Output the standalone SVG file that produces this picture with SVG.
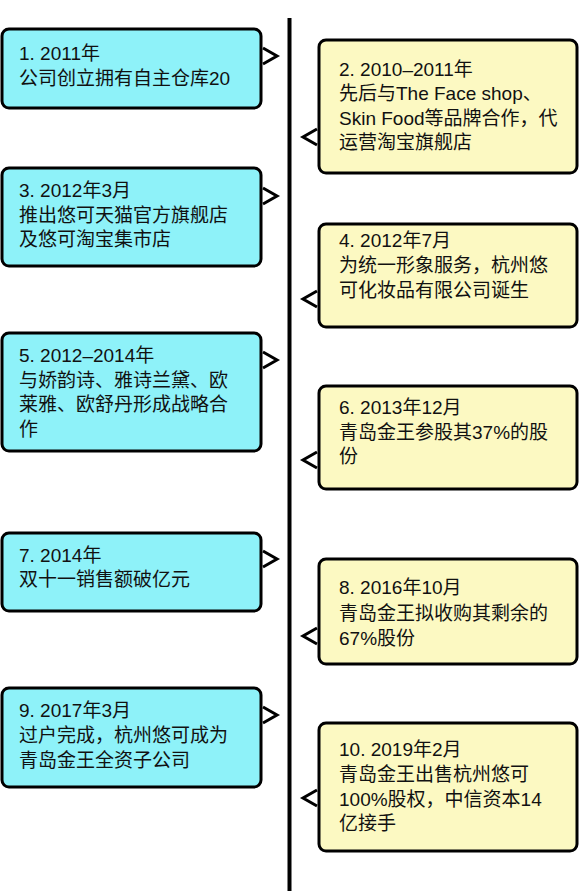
<svg xmlns="http://www.w3.org/2000/svg" width="580" height="891" viewBox="0 0 580 891">
<style>
.l{fill:#8ef2f9;stroke:#000;stroke-width:3}
.r{fill:#fcf9c2;stroke:#000;stroke-width:3}
.t{fill:none;stroke:#000;stroke-width:3;stroke-linejoin:miter}
text{font-family:"Liberation Sans","Noto Sans CJK SC",sans-serif;font-size:19px;fill:#111}
</style>
<rect width="580" height="891" fill="#fff"/>
<g id="connectors">
<line x1="289.5" y1="18" x2="289.5" y2="891" stroke="#000" stroke-width="4"/>
<polyline class="t" points="263,48 277,56 263,64"/>
<polyline class="t" points="263,188 277,196 263,204"/>
<polyline class="t" points="263,352 277,360 263,368"/>
<polyline class="t" points="263,551 277,559 263,567"/>
<polyline class="t" points="263,707 277,715 263,723"/>
<polyline class="t" points="317,129 303,137 317,145"/>
<polyline class="t" points="317,291 303,299 317,307"/>
<polyline class="t" points="317,452 303,460 317,468"/>
<polyline class="t" points="317,628 303,636 317,644"/>
<polyline class="t" points="317,790 303,798 317,806"/>
</g>
<g id="n1"><rect class="l" x="2" y="29" width="259" height="79" rx="7"/>
<text x="19" y="60">1. 2011年</text><text x="19" y="85">公司创立拥有自主仓库20</text></g>
<g id="n3"><rect class="l" x="2" y="168" width="259" height="98" rx="7"/>
<text x="19" y="197">3. 2012年3月</text><text x="19" y="222">推出悠可天猫官方旗舰店</text><text x="19" y="246">及悠可淘宝集市店</text></g>
<g id="n5"><rect class="l" x="2" y="333" width="259" height="118" rx="7"/>
<text x="19" y="362">5. 2012–2014年</text><text x="19" y="387">与娇韵诗、雅诗兰黛、欧</text><text x="19" y="411">莱雅、欧舒丹形成战略合</text><text x="19" y="436">作</text></g>
<g id="n7"><rect class="l" x="2" y="533" width="259" height="78" rx="7"/>
<text x="19" y="562">7. 2014年</text><text x="19" y="586">双十一销售额破亿元</text></g>
<g id="n9"><rect class="l" x="2" y="688" width="259" height="99" rx="7"/>
<text x="19" y="717">9. 2017年3月</text><text x="19" y="742">过户完成，杭州悠可成为</text><text x="19" y="767">青岛金王全资子公司</text></g>
<g id="n2"><rect class="r" x="319" y="40" width="258" height="133" rx="7"/>
<text x="339" y="76">2. 2010–2011年</text><text x="339" y="100">先后与The Face shop、</text><text x="339" y="125">Skin Food等品牌合作，代</text><text x="339" y="149">运营淘宝旗舰店</text></g>
<g id="n4"><rect class="r" x="319" y="224" width="258" height="103" rx="7"/>
<text x="339" y="247">4. 2012年7月</text><text x="339" y="272">为统一形象服务，杭州悠</text><text x="339" y="297">可化妆品有限公司诞生</text></g>
<g id="n6"><rect class="r" x="319" y="386" width="258" height="103" rx="7"/>
<text x="339" y="414">6. 2013年12月</text><text x="339" y="439">青岛金王参股其37%的股</text><text x="339" y="463">份</text></g>
<g id="n8"><rect class="r" x="319" y="559" width="258" height="105" rx="7"/>
<text x="339" y="594">8. 2016年10月</text><text x="339" y="620">青岛金王拟收购其剩余的</text><text x="339" y="645">67%股份</text></g>
<g id="n10"><rect class="r" x="319" y="723" width="258" height="128" rx="7"/>
<text x="339" y="756">10. 2019年2月</text><text x="339" y="781">青岛金王出售杭州悠可</text><text x="339" y="806">100%股权，中信资本14</text><text x="339" y="830">亿接手</text></g>
</svg>
